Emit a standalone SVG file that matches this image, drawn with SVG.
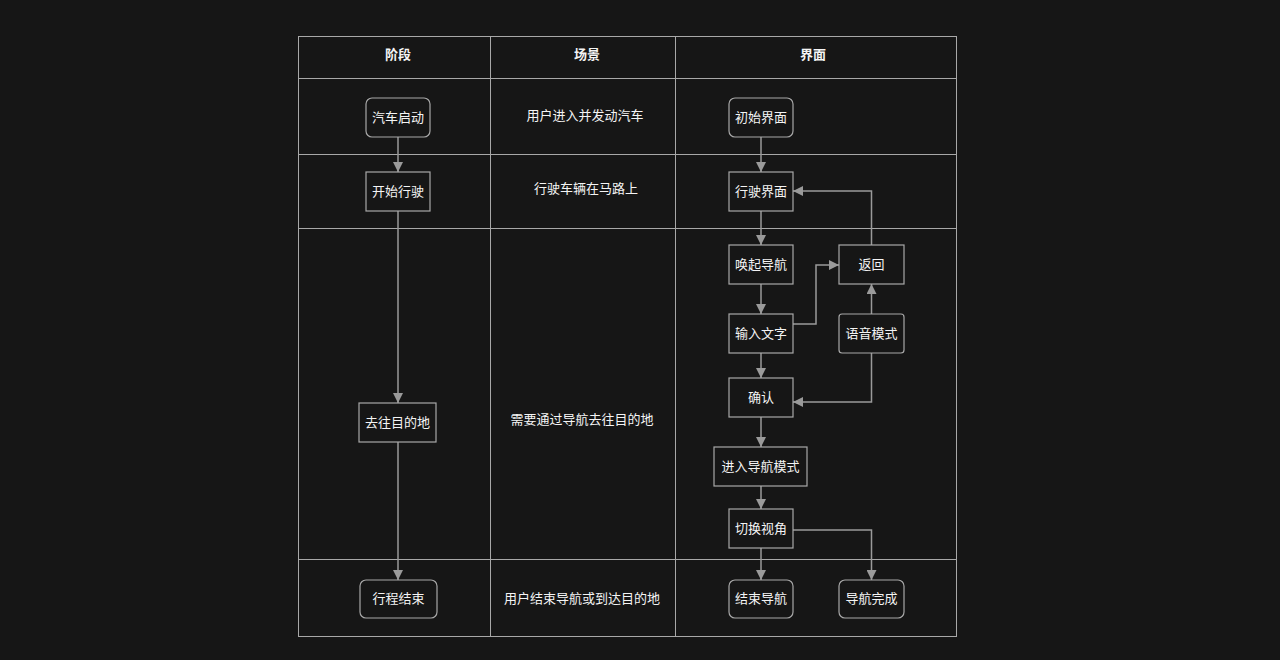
<svg xmlns="http://www.w3.org/2000/svg" width="1280" height="660" viewBox="0 0 1280 660">
<style>
.grid{stroke:#a8a8a8;stroke-width:1;fill:none}
.node rect{fill:#161616;stroke:#a8a8a8;stroke-width:1.2}
text{font-family:"Noto Sans CJK SC","Noto Sans",sans-serif;font-size:13px;fill:#f4f4f4;text-anchor:middle;dominant-baseline:central}
.hdr{font-weight:bold}
.edge{stroke:#9a9a9a;stroke-width:1.5;fill:none;marker-end:url(#arr)}
</style>
<defs>
<marker id="arr" viewBox="0 0 10 10" refX="10" refY="5" markerWidth="10" markerHeight="10" markerUnits="userSpaceOnUse" orient="auto">
<path d="M0,0 L10,5 L0,10 z" fill="#9a9a9a"/>
</marker>
</defs>
<rect width="1280" height="660" fill="#161616"/>
<g id="table">
<rect class="grid" x="298.5" y="36.5" width="658" height="600"/>
<line class="grid" x1="490.5" y1="36" x2="490.5" y2="637"/>
<line class="grid" x1="675.5" y1="36" x2="675.5" y2="637"/>
<line class="grid" x1="298" y1="78.5" x2="957" y2="78.5"/>
<line class="grid" x1="298" y1="154.5" x2="957" y2="154.5"/>
<line class="grid" x1="298" y1="228.5" x2="957" y2="228.5"/>
<line class="grid" x1="298" y1="559.5" x2="957" y2="559.5"/>
<text class="hdr" x="398" y="53.5">阶段</text>
<text class="hdr" x="587" y="53.5">场景</text>
<text class="hdr" x="813" y="53.5">界面</text>
<text x="585" y="114.5">用户进入并发动汽车</text>
<text x="586" y="187.5">行驶车辆在马路上</text>
<text x="582" y="418.5">需要通过导航去往目的地</text>
<text x="582" y="597.5">用户结束导航或到达目的地</text>
</g>
<g id="connectors">
<path class="edge" d="M398,137 V172"/>
<path class="edge" d="M398,211 V403"/>
<path class="edge" d="M398,442 V580"/>
<path class="edge" d="M761,137 V172"/>
<path class="edge" d="M761,211 V245"/>
<path class="edge" d="M761,284 V314"/>
<path class="edge" d="M761,353 V378"/>
<path class="edge" d="M761,417 V447"/>
<path class="edge" d="M761,486 V509"/>
<path class="edge" d="M761,548 V580"/>
<path class="edge" d="M871.5,245 V191 H793"/>
<path class="edge" d="M793,324 H816 V265 H839"/>
<path class="edge" d="M871.5,314 V284"/>
<path class="edge" d="M871.5,353 V402 H793"/>
<path class="edge" d="M793,530 H871.5 V580"/>
</g>
<g id="n1" class="node"><rect x="366" y="98" width="64" height="39" rx="6"/><text x="398" y="116">汽车启动</text></g>
<g id="n2" class="node"><rect x="366" y="172" width="64" height="39"/><text x="398" y="190">开始行驶</text></g>
<g id="n3" class="node"><rect x="359" y="403" width="77" height="39"/><text x="397.5" y="421">去往目的地</text></g>
<g id="n4" class="node"><rect x="360" y="580" width="77" height="38" rx="6"/><text x="398.5" y="597.5">行程结束</text></g>
<g id="u1" class="node"><rect x="729" y="98" width="64" height="39" rx="6"/><text x="761" y="116">初始界面</text></g>
<g id="u2" class="node"><rect x="729" y="172" width="64" height="39"/><text x="761" y="190">行驶界面</text></g>
<g id="u3" class="node"><rect x="729" y="245" width="64" height="39"/><text x="761" y="263">唤起导航</text></g>
<g id="u4" class="node"><rect x="839" y="245" width="65" height="39"/><text x="871.5" y="263">返回</text></g>
<g id="u5" class="node"><rect x="729" y="314" width="64" height="39"/><text x="761" y="332">输入文字</text></g>
<g id="u6" class="node"><rect x="839" y="314" width="65" height="39" rx="3"/><text x="871.5" y="332">语音模式</text></g>
<g id="u7" class="node"><rect x="729" y="378" width="64" height="39"/><text x="761" y="396">确认</text></g>
<g id="u8" class="node"><rect x="714" y="447" width="93" height="39"/><text x="760.5" y="465">进入导航模式</text></g>
<g id="u9" class="node"><rect x="729" y="509" width="64" height="39"/><text x="761" y="527">切换视角</text></g>
<g id="u10" class="node"><rect x="729" y="580" width="64" height="38" rx="6"/><text x="761" y="597.5">结束导航</text></g>
<g id="u11" class="node"><rect x="839" y="580" width="65" height="38" rx="6"/><text x="871.5" y="597.5">导航完成</text></g>
</svg>
